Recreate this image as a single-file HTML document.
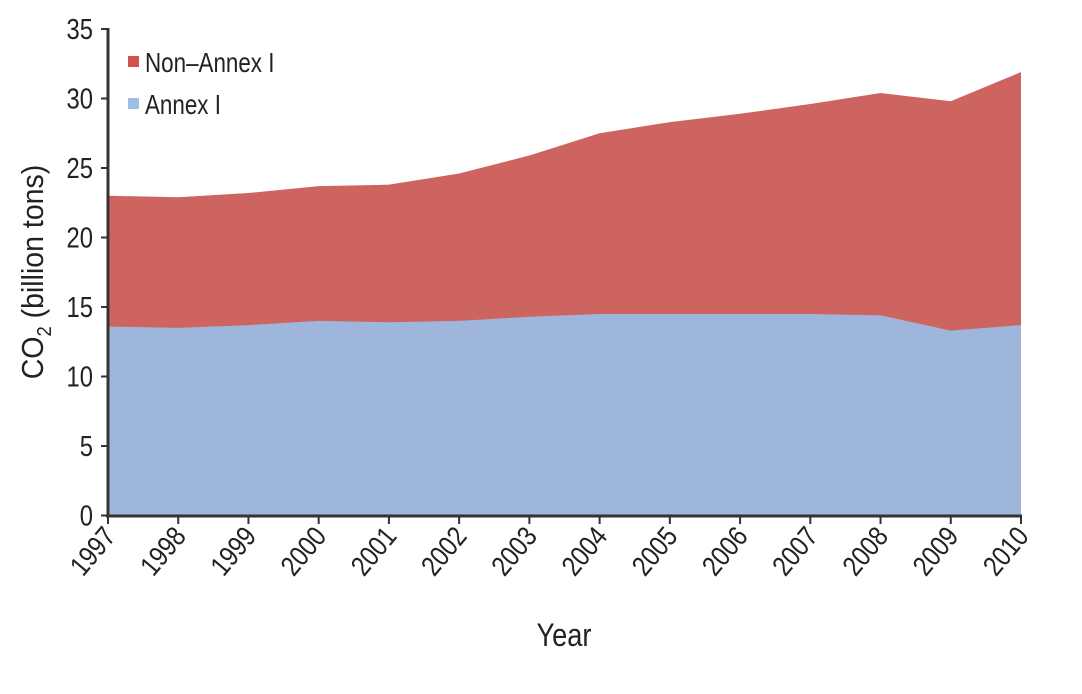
<!DOCTYPE html>
<html><head><meta charset="utf-8"><style>
html,body{margin:0;padding:0;background:#fff;}
svg{display:block;}
text{font-family:"Liberation Sans",sans-serif;fill:#222;}
</style></head><body>
<svg id="s" width="1082" height="694" viewBox="0 0 1082 694" xmlns="http://www.w3.org/2000/svg">
<path id="red" fill="#cd645f" d="M108 196 L1021 72 L1021 516 L108 516Z"/>
<path id="blue" fill="#9fb6dc"/>
<g id="axes" stroke="#333" stroke-width="3" fill="none">
<line x1="108" y1="28" x2="108" y2="517"/>
<line x1="106" y1="516" x2="1022" y2="516"/>
</g>
<g id="ticks" stroke="#333" stroke-width="2"></g>
<g id="labels"></g>
<rect x="128" y="56" width="11" height="11" fill="#d0524c"/>
<text x="145" y="72" font-size="28" transform="translate(145 0) scale(0.8 1) translate(-145 0)">Non–Annex I</text>
<rect x="128" y="98" width="11" height="11" fill="#9fc0e6"/>
<text x="145" y="114" font-size="28" transform="translate(145 0) scale(0.8 1) translate(-145 0)">Annex I</text>
<text x="564" y="646" font-size="32" text-anchor="middle" transform="translate(564 0) scale(0.85 1) translate(-564 0)">Year</text>
<text font-size="31" text-anchor="middle" transform="translate(43 272) rotate(-90) scale(0.92 1)">CO<tspan font-size="20" dy="8">2</tspan><tspan dy="-8"> (billion tons)</tspan></text>
</svg>
<script>
var ann=[13.6,13.5,13.7,14.0,13.9,14.0,14.3,14.5,14.5,14.5,14.5,14.4,13.3,13.7];
var tot=[23.0,22.9,23.2,23.7,23.8,24.6,25.9,27.5,28.3,28.9,29.6,30.4,29.8,31.9];
function X(i){return 108+i*(1021-108)/13;}
function Y(v){return 515.5-v*13.9;}
var tp="";
for(var i=0;i<14;i++){tp+=(i?"L":"M")+X(i)+" "+Y(tot[i]);}
tp+=" L1021 516 L108 516Z";
var b="";
for(var i=0;i<14;i++){b+=(i?"L":"M")+X(i)+" "+Y(ann[i]);}
b+=" L1021 516 L108 516Z";
document.getElementById("red").setAttribute("d",tp);
document.getElementById("blue").setAttribute("d",b);
var t="",l="";
for(var v=0;v<=35;v+=5){var y=Y(v);t+='<line x1="101" y1="'+y+'" x2="108" y2="'+y+'"/>';
l+='<text x="93" y="'+(y+10)+'" font-size="29" text-anchor="end" transform="translate(93 0) scale(0.82 1) translate(-93 0)">'+v+'</text>';}
for(var i=0;i<14;i++){var x=X(i);t+='<line x1="'+x+'" y1="516" x2="'+x+'" y2="524"/>';
l+='<text font-size="28" text-anchor="end" transform="translate('+(x+9)+' 537) rotate(-50) scale(0.85 1)">'+(1997+i)+'</text>';}
document.getElementById("ticks").innerHTML=t;
document.getElementById("labels").innerHTML=l;
</script>
</body></html>
